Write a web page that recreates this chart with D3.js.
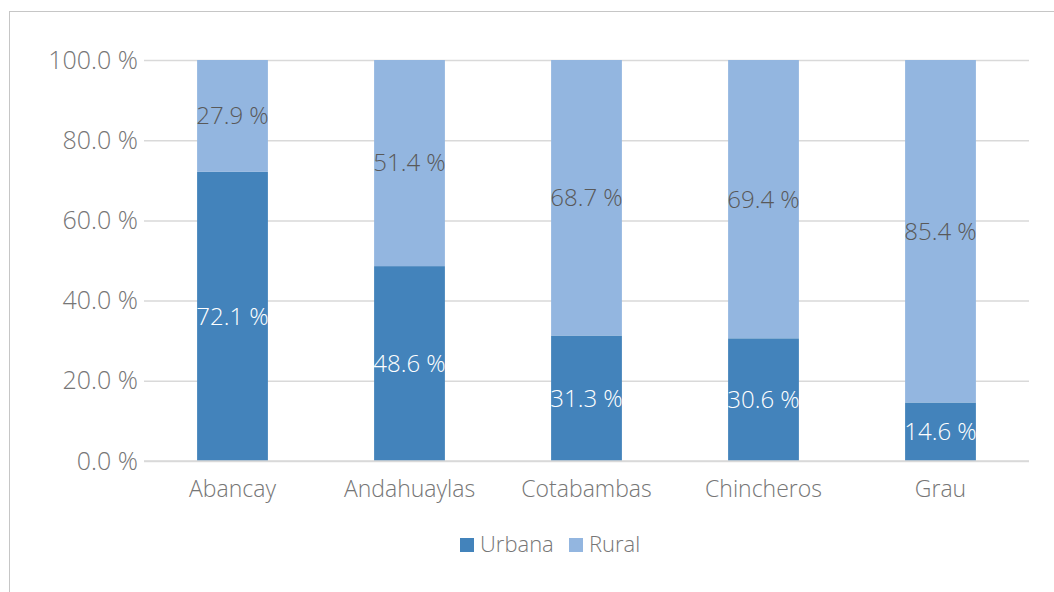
<!DOCTYPE html>
<html><head><meta charset="utf-8">
<script src="https://cdn.jsdelivr.net/npm/d3@7"></script>
<style>body{margin:0;background:#fff;} svg{display:block;font-family:"Open Sans","Noto Sans",sans-serif;font-weight:300;}</style>
</head><body>
<svg id="c" width="1054" height="592"></svg>
<script>
const categories = ["Abancay","Andahuaylas","Cotabambas","Chincheros","Grau"];
const urbana = [72.1, 48.6, 31.3, 30.6, 14.6];
const rural = [27.9, 51.4, 68.7, 69.4, 85.4];
const seriesNames = ["Urbana","Rural"];
const yTicks = [0,20,40,60,80,100];

const colors = {Urbana:"#4383bb", Rural:"#93b6e0"};
const svg = d3.select("#c");
svg.append("rect").attr("x",9.5).attr("y",11.5).attr("width",1100).attr("height",700)
  .attr("fill","none").attr("stroke","#c6c6c6").attr("stroke-width",1);

const m = {l:144, r:1029, t:60, b:461};
const x = d3.scaleBand().domain(categories).range([m.l,m.r]).paddingInner(0.6).paddingOuter(0.3);
const y = d3.scaleLinear().domain([0,100]).range([m.b,m.t]);

const yAxis = d3.axisLeft(y).tickValues(yTicks).tickSize(-(m.r-m.l)).tickPadding(6)
  .tickFormat(d=>d.toFixed(1)+" %");
const gy = svg.append("g").attr("transform",`translate(${m.l},0)`).call(yAxis);
gy.select(".domain").remove();
gy.selectAll(".tick line").attr("stroke","#d9d9d9").attr("stroke-width",1.5);
gy.selectAll(".tick text").attr("fill","#767676").attr("font-size",25).attr("font-family","Open Sans").attr("font-weight",300);

const table = categories.map((c,i)=>({cat:c, Urbana:urbana[i], Rural:rural[i]}));
const stack = d3.stack().keys(seriesNames)(table);

const g = svg.append("g");
stack.forEach(s=>{
  g.selectAll(null).data(s).enter().append("rect")
    .attr("x",d=>x(d.data.cat)).attr("width",x.bandwidth())
    .attr("y",d=>y(d[1])).attr("height",d=>y(d[0])-y(d[1]))
    .attr("fill",colors[s.key]);
});
stack.forEach(s=>{
  g.selectAll(null).data(s).enter().append("text")
    .attr("x",d=>x(d.data.cat)+x.bandwidth()/2)
    .attr("y",d=>(y(d[0])+y(d[1]))/2)
    .attr("dy","0.35em").attr("text-anchor","middle")
    .attr("font-size",24)
    .attr("fill",s.key==="Urbana"?"#ffffff":"#595959")
    .text(d=>(d[1]-d[0]).toFixed(1)+" %");
});

const xAxis = d3.axisBottom(x).tickSize(0).tickPadding(20);
const gx = svg.append("g").attr("transform",`translate(0,${m.b})`).call(xAxis);
gx.select(".domain").attr("stroke","#d9d9d9").attr("stroke-width",1.5).attr("d",`M${m.l},0H${m.r}`);
gx.selectAll(".tick text").attr("fill","#767676").attr("font-size",23).attr("font-family","Open Sans").attr("font-weight",300);

const leg = svg.append("g").attr("transform","translate(460,538)");
const items = [{n:"Urbana",x:0},{n:"Rural",x:109}];
items.forEach(it=>{
  leg.append("rect").attr("x",it.x).attr("y",0).attr("width",14).attr("height",14).attr("fill",colors[it.n]);
  leg.append("text").attr("x",it.x+20).attr("y",14).attr("font-size",22).attr("fill","#767676").text(it.n);
});
</script>
</body></html>
